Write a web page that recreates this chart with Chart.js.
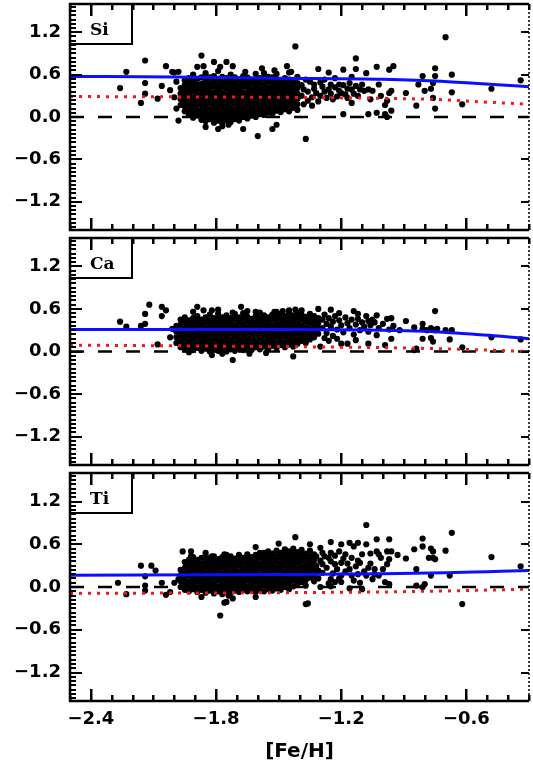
<!DOCTYPE html>
<html>
<head>
<meta charset="utf-8">
<title>[Fe/H] vs Si, Ca, Ti</title>
<script src="https://cdn.jsdelivr.net/npm/chart.js@4.4.0/dist/chart.umd.min.js"></script>
<style>
  html, body { margin: 0; padding: 0; background: #fff; }
  #wrap { position: relative; width: 533px; height: 769px; }
  canvas { position: absolute; left: 0; }
</style>
</head>
<body>
<div id="wrap">
  <canvas id="panelSi" width="533" height="234" style="top:0px"></canvas>
  <canvas id="panelCa" width="533" height="235" style="top:234px"></canvas>
  <canvas id="panelTi" width="533" height="300" style="top:469px"></canvas>
</div>
<script>
// axis ticks
const xTickValues = [-2.4, -1.8, -1.2, -0.6];
const yTickValues = [-1.2, -0.6, 0.0, 0.6, 1.2];

// [Fe/H], [X/Fe]
const siCore = [
  [-1.97,0.17],[-1.97,0.25],[-1.97,0.33],[-1.97,0.41],
  [-1.95,0.08],[-1.95,0.15],[-1.95,0.22],[-1.95,0.30],[-1.95,0.37],[-1.95,0.45],[-1.95,0.52],
  [-1.93,0.03],[-1.93,0.11],[-1.93,0.18],[-1.93,0.26],[-1.93,0.33],[-1.93,0.40],[-1.93,0.48],[-1.93,0.55],
  [-1.91,-0.01],[-1.91,0.06],[-1.91,0.14],[-1.91,0.21],[-1.91,0.28],[-1.91,0.36],[-1.91,0.43],[-1.91,0.51],[-1.91,0.60],
  [-1.89,0.02],[-1.89,0.09],[-1.89,0.17],[-1.89,0.24],[-1.89,0.31],[-1.89,0.39],[-1.89,0.46],[-1.89,0.54],
  [-1.87,-0.04],[-1.87,0.03],[-1.87,0.10],[-1.87,0.18],[-1.87,0.25],[-1.87,0.33],[-1.87,0.40],[-1.87,0.47],[-1.87,0.56],
  [-1.85,-0.06],[-1.85,0.01],[-1.85,0.08],[-1.85,0.15],[-1.85,0.22],[-1.85,0.30],[-1.85,0.37],[-1.85,0.44],[-1.85,0.51],[-1.85,0.62],
  [-1.83,-0.03],[-1.83,0.04],[-1.83,0.11],[-1.83,0.19],[-1.83,0.26],[-1.83,0.33],[-1.83,0.41],[-1.83,0.48],[-1.83,0.56],
  [-1.81,-0.08],[-1.81,-0.01],[-1.81,0.06],[-1.81,0.13],[-1.81,0.21],[-1.81,0.28],[-1.81,0.35],[-1.81,0.43],[-1.81,0.50],[-1.81,0.58],
  [-1.79,-0.05],[-1.79,0.02],[-1.79,0.09],[-1.79,0.17],[-1.79,0.24],[-1.79,0.31],[-1.79,0.39],[-1.79,0.46],[-1.79,0.54],[-1.79,0.65],
  [-1.77,-0.09],[-1.77,-0.02],[-1.77,0.05],[-1.77,0.12],[-1.77,0.20],[-1.77,0.27],[-1.77,0.34],[-1.77,0.42],[-1.77,0.49],[-1.77,0.57],
  [-1.75,-0.04],[-1.75,0.03],[-1.75,0.10],[-1.75,0.18],[-1.75,0.25],[-1.75,0.32],[-1.75,0.40],[-1.75,0.47],[-1.75,0.55],
  [-1.73,-0.07],[-1.73,0.00],[-1.73,0.07],[-1.73,0.14],[-1.73,0.22],[-1.73,0.29],[-1.73,0.36],[-1.73,0.44],[-1.73,0.51],[-1.73,0.60],
  [-1.71,-0.03],[-1.71,0.04],[-1.71,0.11],[-1.71,0.19],[-1.71,0.26],[-1.71,0.33],[-1.71,0.41],[-1.71,0.48],[-1.71,0.56],
  [-1.69,-0.05],[-1.69,0.02],[-1.69,0.09],[-1.69,0.16],[-1.69,0.23],[-1.69,0.31],[-1.69,0.38],[-1.69,0.45],[-1.69,0.53],
  [-1.67,0.00],[-1.67,0.06],[-1.67,0.13],[-1.67,0.21],[-1.67,0.28],[-1.67,0.35],[-1.67,0.43],[-1.67,0.50],[-1.67,0.58],
  [-1.65,-0.02],[-1.65,0.05],[-1.65,0.12],[-1.65,0.19],[-1.65,0.27],[-1.65,0.34],[-1.65,0.42],[-1.65,0.49],[-1.65,0.56],
  [-1.63,0.02],[-1.63,0.09],[-1.63,0.16],[-1.63,0.24],[-1.63,0.31],[-1.63,0.38],[-1.63,0.46],[-1.63,0.53],
  [-1.61,0.00],[-1.61,0.07],[-1.61,0.14],[-1.61,0.21],[-1.61,0.29],[-1.61,0.36],[-1.61,0.43],[-1.61,0.51],[-1.61,0.61],
  [-1.59,0.04],[-1.59,0.11],[-1.59,0.18],[-1.59,0.26],[-1.59,0.33],[-1.59,0.40],[-1.59,0.48],[-1.59,0.55],
  [-1.57,0.03],[-1.57,0.10],[-1.57,0.17],[-1.57,0.24],[-1.57,0.32],[-1.57,0.39],[-1.57,0.46],[-1.57,0.54],[-1.57,0.62],
  [-1.55,0.06],[-1.55,0.13],[-1.55,0.20],[-1.55,0.28],[-1.55,0.35],[-1.55,0.42],[-1.55,0.50],[-1.55,0.57],
  [-1.53,0.05],[-1.53,0.12],[-1.53,0.19],[-1.53,0.26],[-1.53,0.34],[-1.53,0.41],[-1.53,0.48],[-1.53,0.56],
  [-1.51,0.09],[-1.51,0.16],[-1.51,0.23],[-1.51,0.30],[-1.51,0.38],[-1.51,0.45],[-1.51,0.52],[-1.51,0.61],
  [-1.49,0.07],[-1.49,0.14],[-1.49,0.21],[-1.49,0.29],[-1.49,0.36],[-1.49,0.43],[-1.49,0.51],
  [-1.47,0.11],[-1.47,0.18],[-1.47,0.25],[-1.47,0.33],[-1.47,0.40],[-1.47,0.47],[-1.47,0.55],
  [-1.45,0.08],[-1.45,0.16],[-1.45,0.23],[-1.45,0.31],[-1.45,0.38],[-1.45,0.45],[-1.45,0.53],[-1.45,0.63],
  [-1.43,0.13],[-1.43,0.20],[-1.43,0.27],[-1.43,0.35],[-1.43,0.42],[-1.43,0.49],
  [-1.41,0.10],[-1.41,0.18],[-1.41,0.26],[-1.41,0.33],[-1.41,0.41],[-1.41,0.48],[-1.41,0.57]
];
const siSparse = [
  [-2.26,0.41],[-2.23,0.64],[-2.16,0.20],[-2.14,0.80],[-2.14,0.48],[-2.14,0.33],[-2.08,0.26],[-2.06,0.44],
  [-2.04,0.72],[-2.01,0.64],[-1.98,0.64],[-1.98,-0.05],[-1.87,0.87],[-1.85,-0.14],[-1.81,0.78],[-1.79,-0.17],
  [-1.75,0.78],[-1.67,-0.17],[-1.60,-0.27],[-1.42,1.00],[-1.77,-0.13],[-1.74,-0.11],[-1.53,-0.17],[-1.51,-0.11],
  [-1.37,-0.31],[-1.89,0.71],[-1.86,0.72],[-1.78,0.71],[-1.72,0.72],[-1.66,0.64],[-1.58,0.69],[-1.52,0.66],
  [-1.46,0.72],[-1.44,0.64],[-2.00,0.63],[-2.00,0.28],[-2.02,0.38],[-1.99,0.12],[-1.99,0.50],
  [-0.70,1.13],[-1.31,0.68],[-1.26,0.63],[-1.19,0.67],[-1.13,0.83],[-1.13,0.68],[-1.08,0.62],[-1.03,0.71],
  [-0.97,0.67],[-0.95,0.72],[-0.89,0.34],[-0.84,0.16],[-0.83,0.46],[-0.81,0.58],[-0.80,0.37],[-0.77,0.40],
  [-0.76,0.48],[-0.76,0.27],[-0.75,0.69],[-0.75,0.58],[-0.75,0.12],[-0.67,0.35],[-0.67,0.60],[-0.62,0.18],
  [-0.48,0.40],[-0.34,0.52],[-1.19,0.04],[-1.07,0.04],[-1.03,0.06],[-0.99,0.04],[-0.98,0.00],[-0.96,0.09],
  [-0.97,0.34],[-0.96,0.37],[-0.99,0.17],[-1.02,0.46],[-1.05,0.37],[-1.06,0.25],[-1.09,0.37],[-1.11,0.39],
  [-1.12,0.30],[-1.15,0.20],[-1.15,0.39],[-1.16,0.48],[-1.15,0.57],[-1.18,0.32],[-1.21,0.37],[-1.21,0.46],
  [-1.24,0.25],[-1.25,0.46],[-1.26,0.39],[-1.29,0.43],[-1.30,0.30],[-1.33,0.46],[-1.34,0.16],[-1.36,0.23],
  [-1.37,0.53],[-1.38,0.39],[-1.39,0.30],[-1.32,0.34],[-1.28,0.53],[-1.23,0.55],[-1.20,0.34],[-1.17,0.40],
  [-1.10,0.46],[-1.07,0.39],[-1.01,0.30],[-0.98,0.23],[-1.39,0.45],[-1.38,0.18],[-1.36,0.36],[-1.35,0.50],
  [-1.34,0.28],[-1.33,0.40],[-1.31,0.22],[-1.30,0.49],[-1.28,0.36],[-1.27,0.27],[-1.25,0.33],[-1.23,0.42],
  [-1.22,0.29],[-1.19,0.45],[-1.17,0.27],[-1.14,0.33],[-1.13,0.44]
];
const siFitBlue = [[-2.5,0.575],[-2.0,0.565],[-1.5,0.55],[-1.0,0.535],[-0.75,0.51],[-0.6,0.485],[-0.45,0.455],[-0.3,0.43]];
const siFitRed = [[-2.5,0.29],[-1.5,0.28],[-1.0,0.265],[-0.75,0.25],[-0.5,0.21],[-0.3,0.18]];

const caCore = [
  [-1.99,0.12],[-1.99,0.20],[-1.99,0.28],[-1.99,0.36],
  [-1.97,0.06],[-1.97,0.14],[-1.97,0.22],[-1.97,0.30],[-1.97,0.38],[-1.97,0.45],
  [-1.95,0.03],[-1.95,0.10],[-1.95,0.18],[-1.95,0.26],[-1.95,0.33],[-1.95,0.41],[-1.95,0.48],
  [-1.93,0.07],[-1.93,0.14],[-1.93,0.22],[-1.93,0.29],[-1.93,0.37],[-1.93,0.44],
  [-1.91,0.02],[-1.91,0.09],[-1.91,0.17],[-1.91,0.24],[-1.91,0.32],[-1.91,0.39],[-1.91,0.47],
  [-1.89,0.05],[-1.89,0.12],[-1.89,0.20],[-1.89,0.27],[-1.89,0.35],[-1.89,0.42],[-1.89,0.50],
  [-1.87,0.01],[-1.87,0.08],[-1.87,0.15],[-1.87,0.23],[-1.87,0.30],[-1.87,0.38],[-1.87,0.45],
  [-1.85,0.04],[-1.85,0.11],[-1.85,0.18],[-1.85,0.26],[-1.85,0.33],[-1.85,0.41],[-1.85,0.48],
  [-1.83,0.00],[-1.83,0.07],[-1.83,0.14],[-1.83,0.22],[-1.83,0.29],[-1.83,0.37],[-1.83,0.44],[-1.83,0.52],
  [-1.81,0.03],[-1.81,0.10],[-1.81,0.18],[-1.81,0.25],[-1.81,0.33],[-1.81,0.40],[-1.81,0.47],
  [-1.79,0.01],[-1.79,0.08],[-1.79,0.15],[-1.79,0.23],[-1.79,0.30],[-1.79,0.38],[-1.79,0.45],[-1.79,0.53],
  [-1.77,0.04],[-1.77,0.11],[-1.77,0.19],[-1.77,0.26],[-1.77,0.34],[-1.77,0.41],[-1.77,0.48],
  [-1.75,0.00],[-1.75,0.07],[-1.75,0.14],[-1.75,0.22],[-1.75,0.29],[-1.75,0.37],[-1.75,0.44],[-1.75,0.51],
  [-1.73,0.03],[-1.73,0.10],[-1.73,0.17],[-1.73,0.25],[-1.73,0.32],[-1.73,0.40],[-1.73,0.47],
  [-1.71,0.01],[-1.71,0.08],[-1.71,0.15],[-1.71,0.23],[-1.71,0.30],[-1.71,0.37],[-1.71,0.45],[-1.71,0.53],
  [-1.69,0.04],[-1.69,0.11],[-1.69,0.18],[-1.69,0.26],[-1.69,0.33],[-1.69,0.41],[-1.69,0.48],
  [-1.67,0.02],[-1.67,0.09],[-1.67,0.16],[-1.67,0.24],[-1.67,0.31],[-1.67,0.38],[-1.67,0.46],[-1.67,0.54],
  [-1.65,0.05],[-1.65,0.12],[-1.65,0.19],[-1.65,0.27],[-1.65,0.34],[-1.65,0.42],[-1.65,0.49],
  [-1.63,0.02],[-1.63,0.09],[-1.63,0.17],[-1.63,0.24],[-1.63,0.32],[-1.63,0.39],[-1.63,0.46],
  [-1.61,0.06],[-1.61,0.13],[-1.61,0.20],[-1.61,0.28],[-1.61,0.35],[-1.61,0.43],[-1.61,0.50],
  [-1.59,0.03],[-1.59,0.10],[-1.59,0.18],[-1.59,0.25],[-1.59,0.32],[-1.59,0.40],[-1.59,0.47],[-1.59,0.55],
  [-1.57,0.07],[-1.57,0.14],[-1.57,0.21],[-1.57,0.29],[-1.57,0.36],[-1.57,0.44],[-1.57,0.51],
  [-1.55,0.04],[-1.55,0.11],[-1.55,0.19],[-1.55,0.26],[-1.55,0.34],[-1.55,0.41],[-1.55,0.48],
  [-1.53,0.08],[-1.53,0.15],[-1.53,0.22],[-1.53,0.30],[-1.53,0.37],[-1.53,0.45],[-1.53,0.52],
  [-1.51,0.05],[-1.51,0.12],[-1.51,0.20],[-1.51,0.27],[-1.51,0.35],[-1.51,0.42],[-1.51,0.49],[-1.51,0.56],
  [-1.49,0.09],[-1.49,0.16],[-1.49,0.23],[-1.49,0.31],[-1.49,0.38],[-1.49,0.46],[-1.49,0.53],
  [-1.47,0.06],[-1.47,0.13],[-1.47,0.21],[-1.47,0.28],[-1.47,0.36],[-1.47,0.43],[-1.47,0.50],
  [-1.45,0.10],[-1.45,0.17],[-1.45,0.24],[-1.45,0.32],[-1.45,0.39],[-1.45,0.47],[-1.45,0.54],
  [-1.43,0.07],[-1.43,0.14],[-1.43,0.22],[-1.43,0.29],[-1.43,0.37],[-1.43,0.44],[-1.43,0.51],
  [-1.41,0.11],[-1.41,0.18],[-1.41,0.25],[-1.41,0.33],[-1.41,0.40],[-1.41,0.48],[-1.41,0.55],
  [-1.39,0.15],[-1.39,0.22],[-1.39,0.30],[-1.39,0.37],[-1.39,0.45],[-1.39,0.52],
  [-1.37,0.12],[-1.37,0.19],[-1.37,0.27],[-1.37,0.34],[-1.37,0.42],[-1.37,0.49],
  [-1.35,0.17],[-1.35,0.24],[-1.35,0.31],[-1.35,0.39],[-1.35,0.46],[-1.35,0.53],
  [-1.33,0.20],[-1.33,0.28],[-1.33,0.35],[-1.33,0.43],[-1.33,0.50],
  [-1.31,0.25],[-1.31,0.32],[-1.31,0.40],[-1.31,0.47]
];
const caSparse = [
  [-2.26,0.42],[-2.23,0.35],[-2.16,0.36],[-2.14,0.39],[-2.14,0.53],[-2.12,0.66],[-2.08,0.10],[-2.06,0.50],
  [-2.06,0.63],[-2.04,0.58],[-2.02,0.20],[-2.01,0.32],[-1.82,-0.05],[-1.72,-0.12],[-1.89,0.63],[-1.91,0.56],
  [-1.86,0.58],[-1.82,0.58],[-1.79,0.59],[-1.68,0.63],[-1.72,0.55],[-1.65,0.57],[-1.61,0.56],[-1.52,0.56],
  [-1.48,0.57],[-1.45,0.58],[-1.42,0.59],[-1.39,0.58],[-1.43,-0.07],[-1.64,-0.03],[-1.77,-0.03],[-1.93,-0.01],
  [-1.56,-0.02],
  [-1.31,0.60],[-1.25,0.59],[-1.21,0.54],[-1.14,0.57],[-1.12,0.53],[-1.03,0.51],[-1.08,0.50],[-1.07,0.43],
  [-1.04,0.41],[-0.98,0.46],[-0.96,0.47],[-0.89,0.43],[-0.75,0.57],[-0.85,0.34],[-0.81,0.39],[-0.81,0.32],
  [-0.79,0.30],[-0.77,0.33],[-0.75,0.30],[-0.74,0.32],[-0.81,0.18],[-0.77,0.19],[-0.76,0.14],[-0.70,0.30],
  [-0.67,0.30],[-0.68,0.17],[-0.62,0.06],[-0.48,0.20],[-0.34,0.17],[-0.96,0.18],[-0.99,0.09],[-1.03,0.23],
  [-1.07,0.11],[-1.17,0.11],[-1.20,0.11],[-1.30,0.07],[-0.84,0.04],[-0.85,0.02],
  [-1.29,0.45],[-1.29,0.33],[-1.28,0.52],[-1.27,0.39],[-1.27,0.26],[-1.26,0.47],[-1.25,0.35],[-1.24,0.42],
  [-1.24,0.22],[-1.23,0.50],[-1.22,0.31],[-1.21,0.44],[-1.20,0.37],[-1.19,0.27],[-1.18,0.48],[-1.17,0.40],
  [-1.16,0.33],[-1.15,0.45],[-1.14,0.24],[-1.13,0.38],[-1.12,0.46],[-1.11,0.30],[-1.10,0.41],[-1.09,0.35],
  [-1.07,0.28],[-1.06,0.37],[-1.05,0.45],[-1.02,0.33],[-1.00,0.39],[-0.97,0.31],[-0.95,0.36],[-0.92,0.30],
  [-1.26,0.15],[-1.22,0.18],[-1.13,0.16],[-1.28,0.19]
];
const caFitBlue = [[-2.5,0.31],[-1.5,0.31],[-1.0,0.30],[-0.75,0.28],[-0.6,0.25],[-0.45,0.22],[-0.3,0.18]];
const caFitRed = [[-2.5,0.09],[-1.5,0.07],[-1.0,0.055],[-0.75,0.04],[-0.5,0.02],[-0.3,0.0]];

const tiCore = [
  [-1.97,0.00],[-1.97,0.08],[-1.97,0.16],[-1.97,0.24],
  [-1.95,-0.04],[-1.95,0.04],[-1.95,0.11],[-1.95,0.19],[-1.95,0.27],[-1.95,0.35],
  [-1.93,-0.06],[-1.93,0.01],[-1.93,0.08],[-1.93,0.16],[-1.93,0.23],[-1.93,0.31],[-1.93,0.38],
  [-1.91,-0.03],[-1.91,0.05],[-1.91,0.12],[-1.91,0.20],[-1.91,0.27],[-1.91,0.35],[-1.91,0.42],
  [-1.89,-0.07],[-1.89,0.00],[-1.89,0.08],[-1.89,0.15],[-1.89,0.23],[-1.89,0.30],[-1.89,0.38],
  [-1.87,-0.04],[-1.87,0.03],[-1.87,0.11],[-1.87,0.18],[-1.87,0.26],[-1.87,0.33],[-1.87,0.41],
  [-1.85,-0.08],[-1.85,-0.01],[-1.85,0.06],[-1.85,0.14],[-1.85,0.21],[-1.85,0.29],[-1.85,0.36],[-1.85,0.44],
  [-1.83,-0.05],[-1.83,0.02],[-1.83,0.10],[-1.83,0.17],[-1.83,0.25],[-1.83,0.32],[-1.83,0.40],
  [-1.81,-0.09],[-1.81,-0.02],[-1.81,0.05],[-1.81,0.13],[-1.81,0.20],[-1.81,0.28],[-1.81,0.35],[-1.81,0.43],
  [-1.79,-0.06],[-1.79,0.01],[-1.79,0.09],[-1.79,0.16],[-1.79,0.24],[-1.79,0.31],[-1.79,0.39],
  [-1.77,-0.10],[-1.77,-0.03],[-1.77,0.04],[-1.77,0.12],[-1.77,0.19],[-1.77,0.27],[-1.77,0.34],[-1.77,0.42],
  [-1.75,-0.06],[-1.75,0.01],[-1.75,0.08],[-1.75,0.15],[-1.75,0.23],[-1.75,0.30],[-1.75,0.38],[-1.75,0.45],
  [-1.73,-0.08],[-1.73,-0.01],[-1.73,0.06],[-1.73,0.14],[-1.73,0.21],[-1.73,0.29],[-1.73,0.36],[-1.73,0.43],
  [-1.71,-0.05],[-1.71,0.03],[-1.71,0.10],[-1.71,0.18],[-1.71,0.25],[-1.71,0.33],[-1.71,0.40],
  [-1.69,-0.07],[-1.69,0.00],[-1.69,0.07],[-1.69,0.15],[-1.69,0.22],[-1.69,0.30],[-1.69,0.37],[-1.69,0.45],
  [-1.67,-0.04],[-1.67,0.04],[-1.67,0.11],[-1.67,0.19],[-1.67,0.26],[-1.67,0.34],[-1.67,0.41],
  [-1.65,-0.06],[-1.65,0.01],[-1.65,0.09],[-1.65,0.16],[-1.65,0.24],[-1.65,0.31],[-1.65,0.39],[-1.65,0.46],
  [-1.63,-0.03],[-1.63,0.05],[-1.63,0.12],[-1.63,0.20],[-1.63,0.27],[-1.63,0.35],[-1.63,0.42],
  [-1.61,-0.07],[-1.61,0.00],[-1.61,0.08],[-1.61,0.15],[-1.61,0.23],[-1.61,0.30],[-1.61,0.38],[-1.61,0.45],
  [-1.59,-0.04],[-1.59,0.03],[-1.59,0.11],[-1.59,0.18],[-1.59,0.26],[-1.59,0.33],[-1.59,0.41],[-1.59,0.48],
  [-1.57,-0.06],[-1.57,0.02],[-1.57,0.09],[-1.57,0.17],[-1.57,0.24],[-1.57,0.32],[-1.57,0.39],[-1.57,0.46],
  [-1.55,-0.03],[-1.55,0.05],[-1.55,0.12],[-1.55,0.20],[-1.55,0.27],[-1.55,0.35],[-1.55,0.42],[-1.55,0.50],
  [-1.53,-0.05],[-1.53,0.02],[-1.53,0.10],[-1.53,0.17],[-1.53,0.25],[-1.53,0.32],[-1.53,0.40],[-1.53,0.47],
  [-1.51,-0.02],[-1.51,0.06],[-1.51,0.13],[-1.51,0.21],[-1.51,0.28],[-1.51,0.36],[-1.51,0.43],[-1.51,0.51],
  [-1.49,-0.04],[-1.49,0.03],[-1.49,0.11],[-1.49,0.18],[-1.49,0.26],[-1.49,0.33],[-1.49,0.41],[-1.49,0.48],
  [-1.47,0.00],[-1.47,0.07],[-1.47,0.15],[-1.47,0.22],[-1.47,0.30],[-1.47,0.37],[-1.47,0.45],[-1.47,0.52],
  [-1.45,-0.03],[-1.45,0.05],[-1.45,0.12],[-1.45,0.20],[-1.45,0.27],[-1.45,0.35],[-1.45,0.42],[-1.45,0.50],
  [-1.43,0.01],[-1.43,0.09],[-1.43,0.16],[-1.43,0.24],[-1.43,0.31],[-1.43,0.39],[-1.43,0.46],[-1.43,0.54],
  [-1.41,0.04],[-1.41,0.11],[-1.41,0.19],[-1.41,0.26],[-1.41,0.34],[-1.41,0.41],[-1.41,0.49],
  [-1.39,0.07],[-1.39,0.14],[-1.39,0.22],[-1.39,0.29],[-1.39,0.37],[-1.39,0.44],[-1.39,0.52],
  [-1.37,0.02],[-1.37,0.10],[-1.37,0.17],[-1.37,0.25],[-1.37,0.32],[-1.37,0.40],[-1.37,0.47],
  [-1.35,0.13],[-1.35,0.20],[-1.35,0.28],[-1.35,0.35],[-1.35,0.43],[-1.35,0.51],
  [-1.33,0.08],[-1.33,0.16],[-1.33,0.23],[-1.33,0.31],[-1.33,0.38],[-1.33,0.46]
];
const tiSparse = [
  [-2.27,0.06],[-2.23,-0.10],[-2.16,0.30],[-2.14,0.15],[-2.11,0.30],[-2.09,0.23],[-2.14,0.02],[-2.14,-0.05],
  [-2.06,0.06],[-2.04,-0.11],[-2.02,-0.07],[-2.00,0.06],[-1.98,0.11],[-1.78,-0.40],[-1.75,-0.21],[-1.96,0.50],
  [-1.92,0.50],[-1.92,0.43],[-1.87,-0.14],[-1.76,-0.22],[-1.74,-0.12],[-1.72,-0.16],[-1.61,0.56],[-1.61,-0.14],
  [-1.50,0.61],[-1.42,0.70],[-1.37,-0.24],[-1.85,0.48],[-1.82,0.43],[-1.76,0.46],[-1.57,0.48],[-1.55,0.43],
  [-1.47,0.53],[-1.44,0.48],
  [-1.08,0.87],[-0.67,0.76],[-0.48,0.42],[-0.34,0.29],[-0.62,-0.24],[-1.36,-0.23],[-0.81,0.68],[-0.81,0.57],
  [-0.85,0.53],[-0.77,0.54],[-0.76,0.50],[-0.78,0.41],[-0.76,0.41],[-0.75,0.39],[-0.70,0.51],[-0.68,0.16],
  [-0.77,0.16],[-0.80,0.04],[-0.81,0.00],[-0.84,0.02],[-0.84,0.25],[-0.89,0.40],[-0.97,0.67],[-1.03,0.67],
  [-0.98,0.50],[-0.96,0.50],[-0.97,0.39],[-0.98,0.32],[-1.02,0.46],[-1.03,0.50],[-1.06,0.47],[-1.08,0.60],
  [-1.12,0.62],[-1.14,0.57],[-1.16,0.62],[-1.20,0.60],[-1.25,0.63],[-1.30,0.55],[-1.35,0.60],[-1.10,0.46],
  [-1.11,0.34],[-1.12,0.37],[-1.15,0.41],[-1.18,0.46],[-1.21,0.50],[-1.25,0.48],[-1.26,0.41],[-1.29,0.48],
  [-1.32,0.43],[-1.34,0.39],[-1.20,0.34],[-1.23,0.32],[-1.29,0.32],[-1.32,0.30],[-1.16,0.25],[-1.07,0.27],
  [-1.04,0.25],[-1.00,0.25],[-1.04,0.18],[-1.08,0.16],[-1.12,0.18],[-1.15,0.16],[-1.20,0.16],[-1.25,0.11],
  [-1.31,0.23],[-1.20,0.07],[-1.23,0.07],[-1.25,0.01],[-1.30,0.00],[-1.16,-0.02],[-1.10,-0.03],[-0.99,0.07],
  [-0.97,0.04],[-1.11,0.06],[-1.05,0.11],[-1.02,0.16],
  [-1.31,0.12],[-1.30,0.37],[-1.29,0.20],[-1.28,0.43],[-1.27,0.27],[-1.26,0.05],[-1.25,0.36],[-1.24,0.19],
  [-1.23,0.44],[-1.22,0.25],[-1.21,0.12],[-1.19,0.40],[-1.18,0.22],[-1.17,0.33],[-1.14,0.09],[-1.13,0.29],
  [-1.09,0.22],[-1.06,0.33],[-1.01,0.41],[-0.93,0.45]
];
const tiFitBlue = [[-2.5,0.165],[-1.5,0.175],[-1.0,0.185],[-0.7,0.20],[-0.5,0.215],[-0.3,0.23]];
const tiFitRed = [[-2.5,-0.09],[-1.5,-0.08],[-1.0,-0.07],[-0.6,-0.05],[-0.3,-0.03]];

const zeroLine = [[-2.5,0],[-0.3,0]];

Chart.defaults.font.family = "'DejaVu Sans', sans-serif";
Chart.defaults.font.weight = 'bold';
Chart.defaults.color = '#000';

const toXY = arr => arr.map(([x, y]) => ({x, y}));
const fmt = v => Number(v).toFixed(1).replace('-', '\u2212');

// frame, inward ticks and the element label box
const frameTicks = {
  id: 'frameTicks',
  afterDatasetsDraw(chart, args, opts) {
    const ctx = chart.ctx;
    const a = chart.chartArea;
    const xs = chart.scales.x, ys = chart.scales.y;
    ctx.save();
    ctx.setLineDash([]);

    // label box (outline only, ticks show through it)
    ctx.strokeStyle = '#000';
    ctx.lineWidth = 2;
    ctx.strokeRect(a.left, a.top, 62, 40);
    ctx.fillStyle = '#000';
    ctx.font = "bold 17px 'DejaVu Serif', serif";
    ctx.textBaseline = 'alphabetic';
    ctx.fillText(opts.text, a.left + 20, a.top + 31);

    // x ticks every 0.1, on the bottom and top edges
    for (let k = -25; k <= -3; k++) {
      const v = k / 10;
      const px = Math.round(xs.getPixelForValue(v));
      const major = xTickValues.some(t => Math.abs(t - v) < 1e-6);
      const len = major ? 12 : 6;
      ctx.fillRect(px - 1, a.bottom - len, 2.5, len);
      ctx.fillRect(px - 1, a.top, 2.5, len);
    }
    // y ticks, minor every 0.06
    for (let k = -26; k <= 26; k++) {
      const py = Math.round(ys.getPixelForValue(k * 0.06));
      const major = k % 10 === 0;
      ctx.fillRect(a.left, py - 1, major ? 12 : 6, 2);
      if (major) ctx.fillRect(a.right - 8, py - 1, 8, 2);
    }

    // frame: solid left/top/bottom, dotted right
    ctx.lineWidth = 2.5;
    ctx.beginPath();
    ctx.moveTo(a.right, a.top); ctx.lineTo(a.left, a.top);
    ctx.lineTo(a.left, a.bottom); ctx.lineTo(a.right, a.bottom);
    ctx.stroke();
    ctx.lineWidth = 1.5;
    ctx.setLineDash([2, 2]);
    ctx.beginPath(); ctx.moveTo(a.right, a.top); ctx.lineTo(a.right, a.bottom); ctx.stroke();
    ctx.restore();
  }
};

function makePanel(id, label, stars, blue, red, showX, xHeight) {
  return new Chart(document.getElementById(id), {
    type: 'scatter',
    data: {
      datasets: [
        { data: toXY(blue), showLine: true, borderColor: '#0a10ff', borderWidth: 3,
          pointRadius: 0, tension: 0.4, cubicInterpolationMode: 'monotone' },
        { data: toXY(red), showLine: true, borderColor: '#f01818', borderWidth: 3,
          borderDash: [3, 6], pointRadius: 0 },
        { data: toXY(zeroLine), showLine: true, borderColor: '#000', borderWidth: 2.5,
          borderDash: [14, 14], pointRadius: 0 },
        { data: toXY(stars), backgroundColor: '#000', borderColor: '#000', borderWidth: 0,
          pointRadius: 3.1 }
      ]
    },
    options: {
      responsive: false,
      animation: false,
      devicePixelRatio: 1,
      layout: { padding: { top: 4, right: 1, bottom: 0, left: 0 } },
      plugins: {
        legend: { display: false },
        tooltip: { enabled: false },
        frameTicks: { text: label }
      },
      scales: {
        x: {
          type: 'linear', min: -2.5, max: -0.3,
          grid: { display: false, drawTicks: false },
          border: { display: false },
          afterBuildTicks: s => { s.ticks = xTickValues.map(v => ({value: v})); },
          afterFit: s => { s.height = xHeight; s.paddingLeft = 0; s.paddingRight = 0; },
          ticks: { display: showX, padding: 8, font: { size: 18 }, callback: fmt },
          title: { display: showX, text: '[Fe/H]', font: { size: 20 }, padding: { top: 0, bottom: 5 } }
        },
        y: {
          type: 'linear', min: -1.6, max: 1.6,
          grid: { display: false, drawTicks: false },
          border: { display: false },
          afterBuildTicks: s => { s.ticks = yTickValues.map(v => ({value: v})); },
          afterFit: s => { s.width = 70; s.paddingTop = 0; s.paddingBottom = 0; },
          ticks: { padding: 9, font: { size: 18 }, callback: fmt }
        }
      }
    },
    plugins: [frameTicks]
  });
}

makePanel('panelSi', 'Si', [...siCore, ...siSparse], siFitBlue, siFitRed, false, 3);
makePanel('panelCa', 'Ca', [...caCore, ...caSparse], caFitBlue, caFitRed, false, 2);
makePanel('panelTi', 'Ti', [...tiCore, ...tiSparse], tiFitBlue, tiFitRed, true, 68);
</script>
</body>
</html>
